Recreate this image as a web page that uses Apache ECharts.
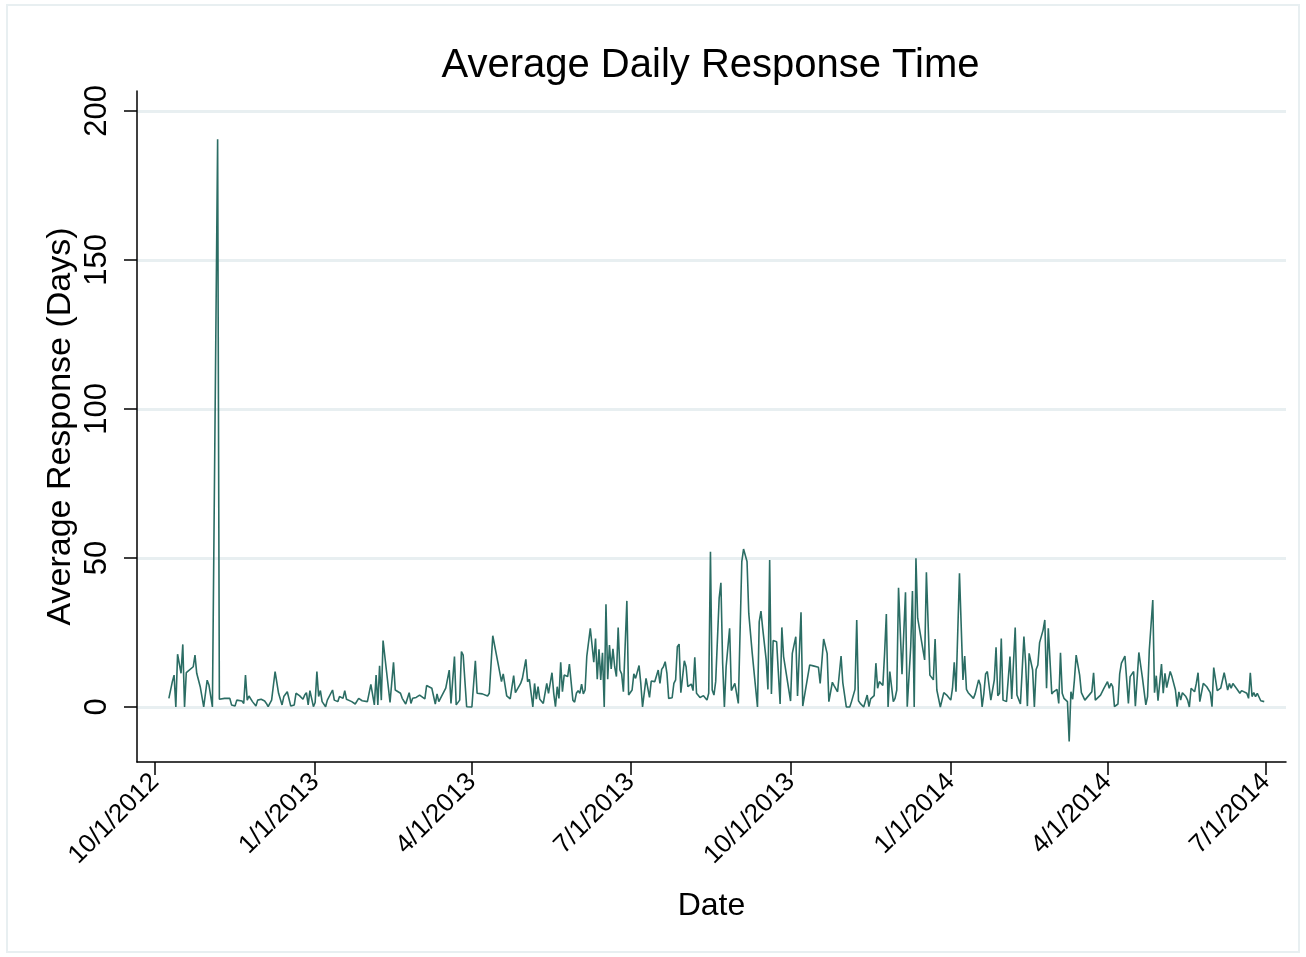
<!DOCTYPE html>
<html>
<head>
<meta charset="utf-8">
<script src="https://cdn.jsdelivr.net/npm/echarts@6/dist/echarts.min.js"></script>
<style>
html,body{margin:0;padding:0;background:#fff;}
#chart{width:1306px;height:957px;}
</style>
</head>
<body>
<div id="chart"></div>
<script>
// ---- Data ----
const dates = [
'2012-10-09','2012-10-11','2012-10-12','2012-10-13','2012-10-14','2012-10-16','2012-10-17','2012-10-18','2012-10-19','2012-10-23',
'2012-10-24','2012-10-25','2012-10-27','2012-10-29','2012-10-31','2012-11-01','2012-11-03','2012-11-04','2012-11-06','2012-11-07',
'2012-11-10','2012-11-13','2012-11-14','2012-11-16','2012-11-17','2012-11-20','2012-11-21','2012-11-22','2012-11-23','2012-11-24',
'2012-11-26','2012-11-28','2012-11-29','2012-12-01','2012-12-03','2012-12-04','2012-12-05','2012-12-07','2012-12-08','2012-12-09',
'2012-12-11','2012-12-13','2012-12-14','2012-12-16','2012-12-18','2012-12-20','2012-12-21','2012-12-23','2012-12-25','2012-12-26',
'2012-12-27','2012-12-28','2012-12-29','2012-12-31','2013-01-01','2013-01-02','2013-01-03','2013-01-04','2013-01-05','2013-01-07',
'2013-01-08','2013-01-09','2013-01-11','2013-01-12','2013-01-14','2013-01-15','2013-01-17','2013-01-18','2013-01-19','2013-01-22',
'2013-01-24','2013-01-26','2013-01-28','2013-01-29','2013-01-31','2013-02-02','2013-02-04','2013-02-05','2013-02-06','2013-02-07',
'2013-02-08','2013-02-09','2013-02-11','2013-02-13','2013-02-14','2013-02-15','2013-02-16','2013-02-19','2013-02-20','2013-02-22',
'2013-02-24','2013-02-25','2013-02-26','2013-02-27','2013-02-28','2013-03-02','2013-03-05','2013-03-06','2013-03-09','2013-03-10',
'2013-03-11','2013-03-12','2013-03-13','2013-03-14','2013-03-17','2013-03-19','2013-03-20','2013-03-22','2013-03-23','2013-03-25',
'2013-03-26','2013-03-27','2013-03-29','2013-04-01','2013-04-03','2013-04-04','2013-04-05','2013-04-07','2013-04-10','2013-04-11',
'2013-04-12','2013-04-13','2013-04-16','2013-04-18','2013-04-19','2013-04-20','2013-04-21','2013-04-23','2013-04-25','2013-04-26',
'2013-04-29','2013-04-30','2013-05-02','2013-05-03','2013-05-04','2013-05-06','2013-05-07','2013-05-08','2013-05-09','2013-05-10',
'2013-05-11','2013-05-12','2013-05-14','2013-05-15','2013-05-17','2013-05-18','2013-05-19','2013-05-20','2013-05-21','2013-05-22',
'2013-05-23','2013-05-24','2013-05-26','2013-05-27','2013-05-29','2013-05-30','2013-05-31','2013-06-01','2013-06-02','2013-06-03',
'2013-06-04','2013-06-05','2013-06-06','2013-06-07','2013-06-08','2013-06-09','2013-06-10','2013-06-11','2013-06-12','2013-06-13',
'2013-06-14','2013-06-15','2013-06-16','2013-06-17','2013-06-18','2013-06-19','2013-06-20','2013-06-21','2013-06-22','2013-06-23',
'2013-06-24','2013-06-25','2013-06-26','2013-06-27','2013-06-29','2013-06-30','2013-07-02','2013-07-03','2013-07-04','2013-07-06',
'2013-07-07','2013-07-08','2013-07-10','2013-07-12','2013-07-13','2013-07-15','2013-07-17','2013-07-18','2013-07-19','2013-07-20',
'2013-07-21','2013-07-22','2013-07-23','2013-07-25','2013-07-26','2013-07-27','2013-07-28','2013-07-29','2013-07-30','2013-08-01',
'2013-08-02','2013-08-03','2013-08-04','2013-08-05','2013-08-06','2013-08-07','2013-08-08','2013-08-10','2013-08-12','2013-08-13',
'2013-08-14','2013-08-15','2013-08-16','2013-08-17','2013-08-18','2013-08-19','2013-08-21','2013-08-22','2013-08-23','2013-08-24',
'2013-08-25','2013-08-27','2013-08-28','2013-08-29','2013-08-30','2013-09-01','2013-09-02','2013-09-03','2013-09-04','2013-09-06',
'2013-09-07','2013-09-09','2013-09-12','2013-09-13','2013-09-14','2013-09-15','2013-09-17','2013-09-18','2013-09-19','2013-09-20',
'2013-09-21','2013-09-23','2013-09-25','2013-09-26','2013-09-27','2013-10-01','2013-10-02','2013-10-04','2013-10-05','2013-10-07',
'2013-10-08','2013-10-09','2013-10-12','2013-10-14','2013-10-17','2013-10-18','2013-10-20','2013-10-22','2013-10-23','2013-10-24',
'2013-10-25','2013-10-26','2013-10-28','2013-10-30','2013-10-31','2013-11-02','2013-11-04','2013-11-05','2013-11-07','2013-11-08',
'2013-11-09','2013-11-10','2013-11-12','2013-11-14','2013-11-15','2013-11-16','2013-11-18','2013-11-19','2013-11-20','2013-11-21',
'2013-11-23','2013-11-24','2013-11-25','2013-11-26','2013-11-27','2013-11-29','2013-11-30','2013-12-01','2013-12-02','2013-12-04',
'2013-12-05','2013-12-06','2013-12-07','2013-12-09','2013-12-10','2013-12-11','2013-12-12','2013-12-13','2013-12-17','2013-12-18',
'2013-12-20','2013-12-22','2013-12-23','2013-12-24','2013-12-26','2013-12-28','2013-12-30','2014-01-01','2014-01-02','2014-01-03',
'2014-01-04','2014-01-05','2014-01-06','2014-01-08','2014-01-09','2014-01-10','2014-01-11','2014-01-12','2014-01-14','2014-01-15',
'2014-01-17','2014-01-18','2014-01-19','2014-01-20','2014-01-21','2014-01-22','2014-01-24','2014-01-25','2014-01-26','2014-01-27',
'2014-01-28','2014-01-29','2014-01-30','2014-01-31','2014-02-02','2014-02-03','2014-02-04','2014-02-05','2014-02-07','2014-02-08',
'2014-02-10','2014-02-11','2014-02-12','2014-02-13','2014-02-14','2014-02-15','2014-02-17','2014-02-18','2014-02-19','2014-02-20',
'2014-02-21','2014-02-23','2014-02-24','2014-02-25','2014-02-26','2014-02-28','2014-03-01','2014-03-03','2014-03-04','2014-03-05',
'2014-03-06','2014-03-07','2014-03-09','2014-03-10','2014-03-11','2014-03-12','2014-03-13','2014-03-14','2014-03-16','2014-03-17',
'2014-03-19','2014-03-20','2014-03-22','2014-03-23','2014-03-24','2014-03-25','2014-03-26','2014-03-28','2014-03-30','2014-04-01',
'2014-04-02','2014-04-03','2014-04-04','2014-04-05','2014-04-07','2014-04-08','2014-04-09','2014-04-11','2014-04-13','2014-04-14',
'2014-04-15','2014-04-16','2014-04-17','2014-04-19','2014-04-21','2014-04-23','2014-04-24','2014-04-25','2014-04-27','2014-04-28',
'2014-04-29','2014-04-30','2014-05-02','2014-05-03','2014-05-04','2014-05-05','2014-05-07','2014-05-08','2014-05-10','2014-05-11',
'2014-05-12','2014-05-13','2014-05-14','2014-05-16','2014-05-17','2014-05-18','2014-05-19','2014-05-21','2014-05-22','2014-05-23',
'2014-05-24','2014-05-25','2014-05-26','2014-05-28','2014-05-29','2014-05-30','2014-05-31','2014-06-01','2014-06-03','2014-06-05',
'2014-06-07','2014-06-09','2014-06-10','2014-06-11','2014-06-12','2014-06-14','2014-06-16','2014-06-17','2014-06-20','2014-06-21',
'2014-06-22','2014-06-23','2014-06-24','2014-06-25','2014-06-26','2014-06-28','2014-06-30'
];
const responseDays = [
2.9,8.5,10.7,0,17.7,11.3,21,0,11.5,13.5,
17.4,11.3,6.8,0,9,7.4,0,0,190.5,2.6,
2.9,2.9,0.7,0.3,2.3,2,1.2,10.7,2.3,3.7,
1.8,0.3,2.3,2.6,2,1.2,0.1,2.3,2.6,11.9,
4.6,0.7,3.5,5.1,0.3,0.7,4.6,3.8,2.6,4,
4.8,0.7,5.5,0.1,1.5,11.9,3.5,5.5,1.8,0.1,
2.3,1.8,5.7,2.3,1.8,3.5,2.9,5.5,2.6,1.8,
1,2.9,2.1,2.7,1.8,7.6,0.7,10.7,0.7,13.8,
2.3,22.3,11.9,1.5,2,15,5.7,4.6,2.9,1,
4.8,1.2,2.9,2.3,3.2,4,2.7,7.2,6.3,5.7,
1,4.4,1.8,1.2,6.3,12.4,1.2,16.9,0.7,2.3,
18.6,17.4,0.1,0,15.5,4.6,5.1,4.4,3.7,4.6,
4.3,23.9,14.7,8.5,11.1,11,3.7,2.7,10.5,4.8,
7.9,9.6,16,8.5,9.3,0,7.9,2.6,6.8,2.6,
2.9,1.2,7.9,4.6,11.5,4.6,0.1,6.8,2.9,15,
5.1,10.7,10.2,14.4,2.3,1.6,4.6,5.5,4.6,7.7,
4.4,5.7,17.1,17.7,26.4,20.8,15,23,9.3,19.4,
9.1,18.2,0,34.5,9.3,20.8,12.8,19.5,13.5,10.2,
26.7,12.4,11.1,5.1,35.6,4,5.7,11.1,9.6,13.9,
7.9,0,9.6,3.2,8.7,8.5,12.4,7.9,12.6,13.5,
15.2,11.3,2.9,3.1,7.9,9.1,20.2,21.1,4.8,15.5,
13.5,6.8,7.4,7.7,5.5,16.7,4.6,3.2,3.8,4,
2.3,4.6,52.1,5.7,4,8.5,36.5,41.7,14.7,0,
13.5,26.4,5.5,5.7,7.9,1.2,1.5,48.8,53,48.8,
31.4,18,0,28.6,32.2,26.4,15.8,5.9,49.3,4.4,
22.3,21.9,1,26.7,16.9,2,18,23.6,3.7,31.8,
0.3,0.9,14.1,13.8,13.3,7.9,22.8,18,1.8,1.5,
8.3,7.2,5.1,17.1,8.2,0,0,1.8,5.9,29.2,
2.1,1.2,0,4,0.1,2.7,3.8,14.7,6.3,8.5,
7.2,18,31.2,0,11.9,1.8,2.9,5.7,40,11,
10.5,38.5,0.1,20.2,38.9,0,49.9,29.8,15.8,45.2,
10.7,9.1,22.8,5.7,0,4.8,3.8,2.3,6.3,15,
5.1,4.6,44.9,9.1,17.1,5.9,4.8,4.4,2.9,4.4,
9.1,7.4,0,4.6,11.1,11.9,2.3,1.8,9.1,20,
3.8,4.6,23,2.3,1.8,1.2,16.9,2.7,26.7,4,
1,0.7,23.6,14.7,0.3,18,12.4,0,12.6,14.1,
21.6,25.8,29.2,6.3,26.4,4.4,5.1,5.9,1.2,18.2,
4.6,2.9,1.8,-11.6,5.1,2.6,9.1,17.4,10.7,4.8,
2.3,2.6,4.4,5.1,11.5,2.3,1.8,4,6.3,8.5,
6.3,7.9,6.8,0.1,1,11.1,14.7,17.1,1.2,10.2,
10.4,11.9,0.3,18.3,10,0.7,3.5,19.1,35.9,4.8,
10.5,2.1,14.4,4.6,11.3,6.5,11.9,10.2,5.7,0.1,
5.1,2.3,4.8,3.5,2.3,0,6.3,5.1,7.9,11.5,
1.8,1.2,7.9,6.8,6.3,4.8,0.1,13.2,5.5,6.3,
11.5,5.7,7.9,6.3,7.9,6.3,4.6,5.5,4.6,2.9,
11.5,3.5,4.8,3.5,4.6,2.1,1.8
];
const xTickDates = ['2012-10-01','2013-01-01','2013-04-01','2013-07-01','2013-10-01','2014-01-01','2014-04-01','2014-07-01'];
const xTickLabels = ['10/1/2012','1/1/2013','4/1/2013','7/1/2013','10/1/2013','1/1/2014','4/1/2014','7/1/2014'];
const yTicks = [0, 50, 100, 150, 200];
const titleText = 'Average Daily Response Time';
const xTitle = 'Date';
const yTitle = 'Average Response (Days)';

// ---- Helpers ----
function parseDay(s) {
  const p = s.split('-').map(Number);
  return Date.UTC(p[0], p[1] - 1, p[2]);
}
const DAY = 86400000;
const xTickValues = xTickDates.map(parseDay);
const labelByValue = {};
xTickValues.forEach((v, i) => { labelByValue[v] = xTickLabels[i]; });
const seriesData = dates.map((d, i) => [parseDay(d), responseDays[i]]);

const FONT = '"Liberation Sans", Arial, Helvetica, sans-serif';
const chart = echarts.init(document.getElementById('chart'), null, { renderer: 'canvas' });

chart.setOption({
  animation: false,
  backgroundColor: '#ffffff',
  title: {
    text: titleText,
    left: 705.5,
    top: 41,
    textAlign: 'center',
    textStyle: { fontFamily: FONT, fontSize: 40, fontWeight: 'normal', color: '#000' }
  },
  graphic: [{
    type: 'rect',
    shape: { x: 7, y: 5, width: 1292, height: 947 },
    style: { fill: 'none', stroke: '#e8eff1', lineWidth: 2 },
    silent: true,
    z: -1
  }],
  grid: { left: 137, right: 20, top: 91, bottom: 195, containLabel: false, outerBoundsMode: 'none' },
  xAxis: {
    type: 'value',
    min: parseDay('2012-10-01') - 10.3 * DAY,
    max: parseDay('2014-07-01') + 11.5 * DAY,
    name: xTitle,
    nameLocation: 'middle',
    nameGap: 128,
    nameTextStyle: { fontFamily: FONT, fontSize: 32, color: '#000' },
    axisLine: { show: true, onZero: false, lineStyle: { color: '#000', width: 1.5 } },
    axisTick: { show: true, length: 13, customValues: xTickValues, lineStyle: { color: '#000', width: 1.5 } },
    axisLabel: {
      show: true,
      customValues: xTickValues,
      rotate: 45,
      margin: 16,
      fontFamily: FONT,
      fontSize: 26,
      color: '#000',
      formatter: function (v) { return labelByValue[v] || ''; }
    },
    splitLine: { show: false },
    minorTick: { show: false }
  },
  yAxis: {
    type: 'value',
    min: -18.46,
    max: 206.7,
    name: yTitle,
    nameLocation: 'middle',
    nameRotate: 90,
    nameGap: 59,
    nameMoveOverlap: false,
    nameTextStyle: { fontFamily: FONT, fontSize: 34, color: '#000' },
    axisLine: { show: true, onZero: false, lineStyle: { color: '#000', width: 1.5 } },
    axisTick: { show: true, length: 13, customValues: yTicks, lineStyle: { color: '#000', width: 1.5 } },
    axisLabel: {
      show: true,
      customValues: yTicks,
      rotate: 90,
      margin: 24,
      fontFamily: FONT,
      fontSize: 31,
      color: '#000'
    },
    splitLine: { show: true, lineStyle: { color: '#e8eff1', width: 3 } }
  },
  series: [{
    type: 'line',
    data: seriesData,
    showSymbol: false,
    symbol: 'none',
    lineStyle: { color: '#2b6d64', width: 1.6 },
    itemStyle: { color: '#2b6d64' },
    clip: true
  }]
});
</script>
</body>
</html>
